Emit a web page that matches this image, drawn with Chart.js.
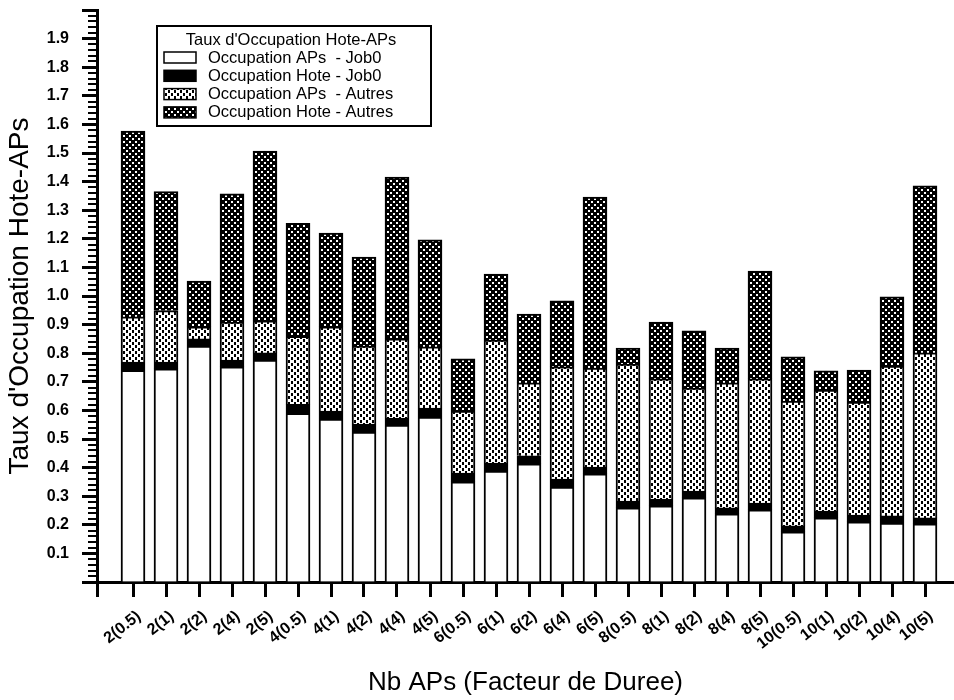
<!DOCTYPE html>
<html>
<head>
<meta charset="utf-8">
<script src="https://cdn.jsdelivr.net/npm/chart.js@4/dist/chart.umd.min.js"></script>
<style>
  html, body { margin: 0; padding: 0; background: #fff; }
  #wrap { width: 954px; height: 700px; }
</style>
</head>
<body>
<div id="wrap"><canvas id="chart" width="954" height="700"></canvas></div>
<script>
// --- data ---
const labels = ['2(0.5)', '2(1)', '2(2)', '2(4)', '2(5)', '4(0.5)', '4(1)', '4(2)', '4(4)', '4(5)',
    '6(0.5)', '6(1)', '6(2)', '6(4)', '6(5)', '8(0.5)', '8(1)', '8(2)', '8(4)', '8(5)',
    '10(0.5)', '10(1)', '10(2)', '10(4)', '10(5)'];

const apsJob0 = [0.740, 0.745, 0.825, 0.752, 0.776, 0.590, 0.570, 0.524, 0.549, 0.577,
    0.350, 0.388, 0.413, 0.332, 0.378, 0.259, 0.266, 0.294, 0.238, 0.252,
    0.175, 0.224, 0.210, 0.206, 0.203];
const hoteJob0 = [0.029, 0.024, 0.025, 0.024, 0.025, 0.031, 0.028, 0.028, 0.024, 0.031,
    0.031, 0.028, 0.028, 0.028, 0.024, 0.024, 0.024, 0.024, 0.021, 0.024,
    0.021, 0.024, 0.024, 0.025, 0.021];
const apsAutres = [0.158, 0.180, 0.042, 0.133, 0.112, 0.238, 0.294, 0.273, 0.277, 0.214,
    0.217, 0.430, 0.255, 0.392, 0.346, 0.479, 0.420, 0.360, 0.437, 0.434,
    0.437, 0.423, 0.395, 0.524, 0.577];
const hoteAutres = [0.650, 0.416, 0.160, 0.448, 0.594, 0.395, 0.328, 0.311, 0.566, 0.374,
    0.182, 0.231, 0.241, 0.231, 0.598, 0.056, 0.199, 0.200, 0.122, 0.377,
    0.154, 0.067, 0.112, 0.242, 0.584];

const seriesNames = ['Occupation APs  - Job0', 'Occupation Hote - Job0',
    'Occupation APs  - Autres', 'Occupation Hote - Autres'];
const legendTitle = "Taux d'Occupation Hote-APs";
const xTitle = 'Nb APs (Facteur de Duree)';
const yTitle = "Taux d'Occupation Hote-APs";

const FONT = "'Liberation Sans', Arial, Helvetica, sans-serif";

// stipple patterns like the old mac fills
function stipple(bg, fg, dw, dh) {
    const c = document.createElement('canvas');
    c.width = 6; c.height = 6;
    const g = c.getContext('2d');
    g.fillStyle = bg;
    g.fillRect(0, 0, 6, 6);
    g.fillStyle = fg;
    g.fillRect(0, 0, dw, dh);
    g.fillRect(3, 3, dw, dh);
    return g.createPattern(c, 'repeat');
}

const ctx = document.getElementById('chart').getContext('2d');
const lightFill = stipple('#fff', '#000', 2, 3);
const darkFill = stipple('#000', '#fff', 2, 2);
const fills = ['#fff', '#000', lightFill, darkFill];

const toPoints = arr => arr.map((v, i) => ({ x: i, y: v }));
const seriesData = [apsJob0, hoteJob0, apsAutres, hoteAutres];

// minor ticks on the y axis (every 0.02)
const minorTicks = {
    id: 'minorTicks',
    afterDraw(chart) {
        const y = chart.scales.y;
        const left = chart.chartArea.left;
        const c = chart.ctx;
        c.save();
        c.strokeStyle = '#000';
        c.lineWidth = 2;
        for (let k = 1; k < 100; k++) {
            if (k % 5 === 0) continue;
            const py = Math.round(y.getPixelForValue(k * 0.02));
            c.beginPath();
            c.moveTo(left - 9, py);
            c.lineTo(left, py);
            c.stroke();
        }
        c.restore();
    }
};

// boxed legend inside the plot, top left
const boxLegend = {
    id: 'boxLegend',
    afterDraw(chart) {
        const c = chart.ctx;
        const x0 = chart.chartArea.left + 60;
        const y0 = chart.chartArea.top + 16;
        const w = 274, h = 100;
        c.save();
        c.fillStyle = '#fff';
        c.fillRect(x0, y0, w, h);
        c.strokeStyle = '#000';
        c.lineWidth = 2;
        c.strokeRect(x0, y0, w, h);
        c.fillStyle = '#000';
        c.font = '16.5px ' + FONT;
        c.textBaseline = 'middle';
        c.textAlign = 'center';
        c.fillText(legendTitle, x0 + w / 2 - 3, y0 + 14);
        c.textAlign = 'left';
        chart.data.datasets.forEach((ds, i) => {
            const ry = y0 + 31 + i * 18.3;
            c.fillStyle = ds.backgroundColor;
            c.fillRect(x0 + 7, ry - 5, 32, 11);
            c.lineWidth = 1.5;
            c.strokeRect(x0 + 7, ry - 5, 32, 11);
            c.fillStyle = '#000';
            c.fillText(ds.label, x0 + 51, ry + 1);
        });
        c.restore();
    }
};

new Chart(ctx, {
    type: 'bar',
    data: {
        datasets: seriesData.map((arr, i) => ({
            label: seriesNames[i],
            data: toPoints(arr),
            backgroundColor: fills[i],
            borderColor: '#000',
            borderWidth: 2,
            barThickness: 24
        }))
    },
    options: {
        responsive: false,
        animation: false,
        layout: { padding: { top: 10, left: 0, right: 0, bottom: 0 } },
        plugins: {
            legend: { display: false },
            tooltip: { enabled: false }
        },
        scales: {
            x: {
                type: 'linear',
                stacked: true,
                offset: false,
                min: -36 / 33,
                max: 24 + 29 / 33,
                afterBuildTicks: axis => {
                    axis.ticks = [{ value: axis.min }].concat(labels.map((_, i) => ({ value: i })));
                },
                afterFit: axis => {
                    axis.height = 118;
                    axis.paddingLeft = 0;
                    axis.paddingRight = 0;
                },
                ticks: {
                    autoSkip: false,
                    minRotation: 38,
                    maxRotation: 38,
                    padding: 10,
                    labelOffset: 6,
                    color: '#000',
                    font: { family: FONT, size: 16, weight: 'bold' },
                    callback: v => Number.isInteger(v) ? labels[v] : ''
                },
                grid: { offset: false, drawOnChartArea: false, drawTicks: true, tickLength: 15, tickWidth: 3, tickColor: '#000' },
                border: { color: '#000', width: 3 },
                title: {
                    display: true,
                    text: xTitle,
                    color: '#000',
                    font: { family: FONT, size: 26 },
                    padding: { top: 0, bottom: 2 }
                }
            },
            y: {
                stacked: true,
                min: 0,
                max: 2,
                afterFit: axis => {
                    axis.width = 97;
                    axis.paddingTop = 0;
                    axis.paddingBottom = 0;
                },
                ticks: {
                    stepSize: 0.1,
                    padding: 13,
                    color: '#000',
                    font: { family: FONT, size: 16, weight: 'bold' },
                    callback: v => (v > 0.05 && v < 1.95) ? v.toFixed(1) : ''
                },
                grid: { drawOnChartArea: false, drawTicks: true, tickLength: 15, tickWidth: 3, tickColor: '#000' },
                border: { color: '#000', width: 3 },
                title: {
                    display: true,
                    text: yTitle,
                    color: '#000',
                    font: { family: FONT, size: 28 },
                    padding: { top: 3, bottom: 0 }
                }
            }
        }
    },
    plugins: [minorTicks, boxLegend]
});
</script>
</body>
</html>
